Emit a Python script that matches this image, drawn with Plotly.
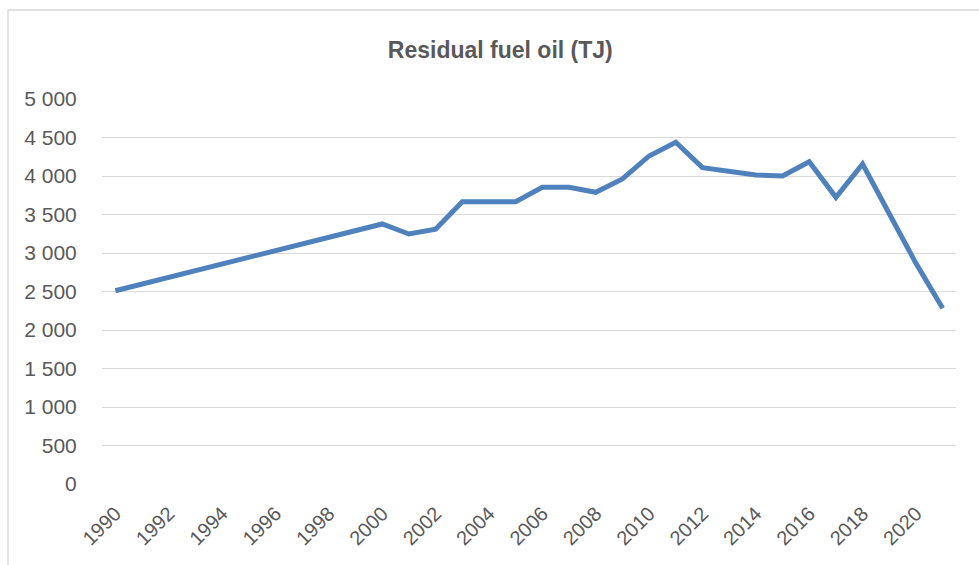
import plotly.graph_objects as go

# Residual fuel oil consumption, TJ
years = list(range(1990, 2022))
fuel_oil_tj = [2510, 2597, 2683, 2770, 2857, 2943, 3030, 3117, 3203, 3290,
               3377, 3247, 3308, 3666, 3666, 3666, 3853, 3853, 3788, 3961,
               4260, 4438, 4108, 4065, 4013, 4000, 4186, 3723, 4156, 3510,
               2866, 2282]

title_text = "Residual fuel oil (TJ)"
font_name = "Liberation Sans"
grey = "#595959"

fig = go.Figure(go.Scatter(x=years, y=fuel_oil_tj, mode="lines",
                           line=dict(color="#4f81bd", width=5),
                           hoverinfo="x+y"))

# plot area in pixels: x 102..956, y 99..484
fig.update_layout(
    width=979, height=565,
    margin=dict(l=102, r=23, t=99, b=81),
    paper_bgcolor="white", plot_bgcolor="white",
    showlegend=False,
    separators=". ",
    title=dict(text="<b>" + title_text + "</b>", x=0.511, xanchor="center",
               y=1 - 50 / 565, yanchor="middle",
               font=dict(family=font_name, size=23, color=grey)),
    font=dict(family=font_name, color=grey),
)

fig.update_yaxes(range=[0, 5000], dtick=500, tickformat=",d",
                 showgrid=True, gridcolor="#d9d9d9", gridwidth=1.3,
                 zeroline=False, showline=False,
                 ticks="outside", ticklen=20, tickcolor="rgba(0,0,0,0)",
                 tickfont=dict(size=21, color=grey), fixedrange=True)

fig.update_xaxes(range=[1989.5, 2021.5], tick0=1990, dtick=2,
                 tickangle=-45, showgrid=False, zeroline=False,
                 showline=False, ticks="outside", ticklen=9,
                 tickcolor="rgba(0,0,0,0)",
                 tickfont=dict(size=20, color=grey), fixedrange=True)

# light chart frame, mostly cut off on right and bottom like the reference
fig.add_shape(type="rect", xref="paper", yref="paper",
              x0=(8 - 102) / 854, x1=(990 - 102) / 854,
              y0=(484 - 575) / 385, y1=(484 - 10) / 385,
              line=dict(color="#d9d9d9", width=1.3), layer="below")

fig.write_html("out.html", config={"displayModeBar": False},
               post_script="document.body.style.margin='0';")
